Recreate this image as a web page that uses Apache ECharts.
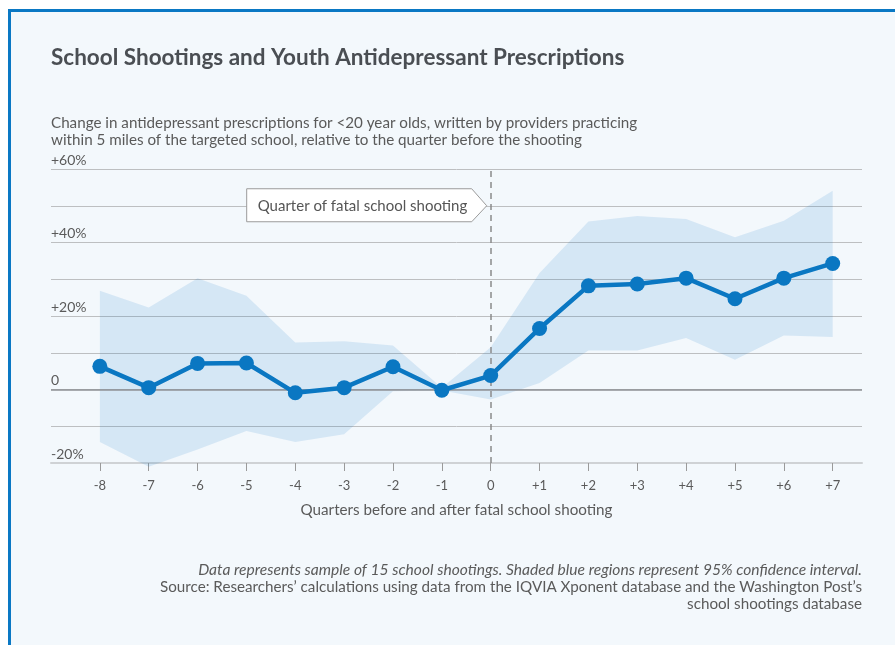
<!DOCTYPE html>
<html><head><meta charset="utf-8">
<script src="https://cdn.jsdelivr.net/npm/echarts@6/dist/echarts.min.js"></script>
<style>
html,body{margin:0;padding:0;background:#fff;width:895px;height:645px;overflow:hidden}
#frame{position:absolute;left:8px;top:9px;width:887px;height:636px;border-left:3px solid #0a78c4;border-top:3px solid #0a78c4;background:#f3f8fc;box-sizing:border-box}
#chart{position:absolute;left:0;top:0;width:895px;height:645px}
</style></head><body>
<div id="frame"></div><div id="chart"></div>
<script>
const quarters = [-8,-7,-6,-5,-4,-3,-2,-1,0,1,2,3,4,5,6,7];
const quarterLabels = ['-8','-7','-6','-5','-4','-3','-2','-1','0','+1','+2','+3','+4','+5','+6','+7'];
const change  = [6.3,0.5,7.1,7.2,-0.9,0.5,6.2,-0.2,3.8,16.6,28.2,28.7,30.3,24.7,30.3,34.3];
const ciLower = [-14.3,-21.0,-16.3,-11.3,-14.3,-12.2,-0.5,-0.3,-2.7,1.8,10.6,10.6,14.0,8.1,14.7,14.3];
const ciUpper = [26.9,22.3,30.3,25.5,12.8,13.1,12.0,0.5,11.5,31.7,45.7,47.2,46.4,41.4,45.9,54.1];
const yLabelValues = [-20,0,20,40,60];
const yLabelTexts = ['-20%','0','+20%','+40%','+60%'];

const FONT = 'Lato, "Open Sans", sans-serif';
const chart = echarts.init(document.getElementById('chart'), null, {renderer:'canvas'});

const option = {
  backgroundColor: 'transparent',
  animation: false,
  textStyle: {fontFamily: FONT},
  grid: {left: 51, right: 33, top: 169, bottom: 182, containLabel: false},
  xAxis: {
    type: 'value', min: -9, max: 7.6, interval: 1,
    axisLine: {onZero: false, lineStyle: {color: '#cfd2d5', width: 2}},
    axisTick: {show: true, length: 8, lineStyle: {color: '#9a9a9a', width: 1}, customValues: quarters},
    axisLabel: {customValues: quarters, margin: 16, color: '#5a5a5a', fontSize: 13, fontFamily: FONT,
      formatter: v => { const i = quarters.indexOf(Math.round(v)); return i >= 0 ? quarterLabels[i] : ''; }},
    splitLine: {show: false},
    name: 'Quarters before and after fatal school shooting',
    nameLocation: 'middle', nameGap: 40,
    nameTextStyle: {color: '#5a5a5a', fontSize: 15.2, fontFamily: FONT}
  },
  yAxis: {
    type: 'value', min: -20, max: 60, interval: 10,
    axisLine: {show: false}, axisTick: {show: false},
    axisLabel: {inside: true, margin: 0, verticalAlign: 'bottom', padding: [0,0,2,0],
      color: '#5a5a5a', fontSize: 14, fontFamily: FONT,
      formatter: v => { const i = yLabelValues.indexOf(v); return i >= 0 ? yLabelTexts[i] : ''; }},
    splitLine: {lineStyle: {color: '#bdbfc1', width: 1}}
  },
  series: [
    {
      name: 'ci', type: 'custom', silent: true, z: 1,
      data: quarters.map((q,i) => [q, ciLower[i], ciUpper[i]]),
      encode: {x: 0, y: [1, 2]},
      renderItem: (params, api) => {
        if (params.dataIndex !== 0) return null;
        const pts = [];
        for (let i = 0; i < quarters.length; i++) pts.push(api.coord([quarters[i], ciUpper[i]]));
        for (let i = quarters.length - 1; i >= 0; i--) pts.push(api.coord([quarters[i], ciLower[i]]));
        return {type: 'polygon', shape: {points: pts}, style: {fill: 'rgba(0,119,200,0.12)'}};
      }
    },
    {
      name: 'change', type: 'line',
      data: quarters.map((q,i) => [q, change[i]]),
      symbol: 'circle', symbolSize: 15,
      itemStyle: {color: '#0a77c2'},
      lineStyle: {color: '#0a77c2', width: 4.5},
      z: 5,
      markLine: {
        silent: true, symbol: 'none', label: {show: false}, animation: false,
        data: [
          {xAxis: 0, lineStyle: {color: '#8a8a8a', type: [6,5], width: 1.5}},
          {yAxis: 0, lineStyle: {color: '#8e9195', type: 'solid', width: 1.5}}
        ]
      }
    }
  ]
};
chart.setOption(option);

const p = chart.convertToPixel({gridIndex: 0}, [0, 50]);
const tipX = p[0] - 4, bodyRight = tipX - 15, boxLeft = bodyRight - 225;
const boxTop = p[1] - 17, boxBottom = p[1] + 16;

chart.setOption({
  graphic: [
    {type: 'text', left: 51, top: 46, style: {text: 'School Shootings and Youth Antidepressant Prescriptions',
      font: 'bold 22.5px ' + FONT, fill: '#4a4e53'}},
    {type: 'text', left: 51, top: 115, style: {text: 'Change in antidepressant prescriptions for <20 year olds, written by providers practicing\nwithin 5 miles of the targeted school, relative to the quarter before the shooting',
      font: '15.2px ' + FONT, fill: '#5a5a5a', lineHeight: 17}},
    {type: 'polygon', z: 10, shape: {points: [[boxLeft, boxTop],[bodyRight, boxTop],[tipX, p[1]],[bodyRight, boxBottom],[boxLeft, boxBottom]]},
      style: {fill: '#ffffff', stroke: '#9a9a9a', lineWidth: 1}},
    {type: 'text', z: 11, x: boxLeft + 11, y: p[1], style: {text: 'Quarter of fatal school shooting',
      font: '15px ' + FONT, fill: '#555', verticalAlign: 'middle', textAlign: 'left'}},
    {type: 'text', x: 862, y: 570, style: {text: 'Data represents sample of 15 school shootings. Shaded blue regions represent 95% confidence interval.',
      font: 'italic 15.6px ' + FONT, fill: '#5a5a5a', textAlign: 'right', verticalAlign: 'middle'}},
    {type: 'text', x: 862, y: 587, style: {text: 'Source: Researchers\u2019 calculations using data from the IQVIA Xponent database and the Washington Post\u2019s',
      font: '15.2px ' + FONT, fill: '#5a5a5a', textAlign: 'right', verticalAlign: 'middle'}},
    {type: 'text', x: 862, y: 604, style: {text: 'school shootings database',
      font: '15.2px ' + FONT, fill: '#5a5a5a', textAlign: 'right', verticalAlign: 'middle'}}
  ]
});
</script>
</body></html>
